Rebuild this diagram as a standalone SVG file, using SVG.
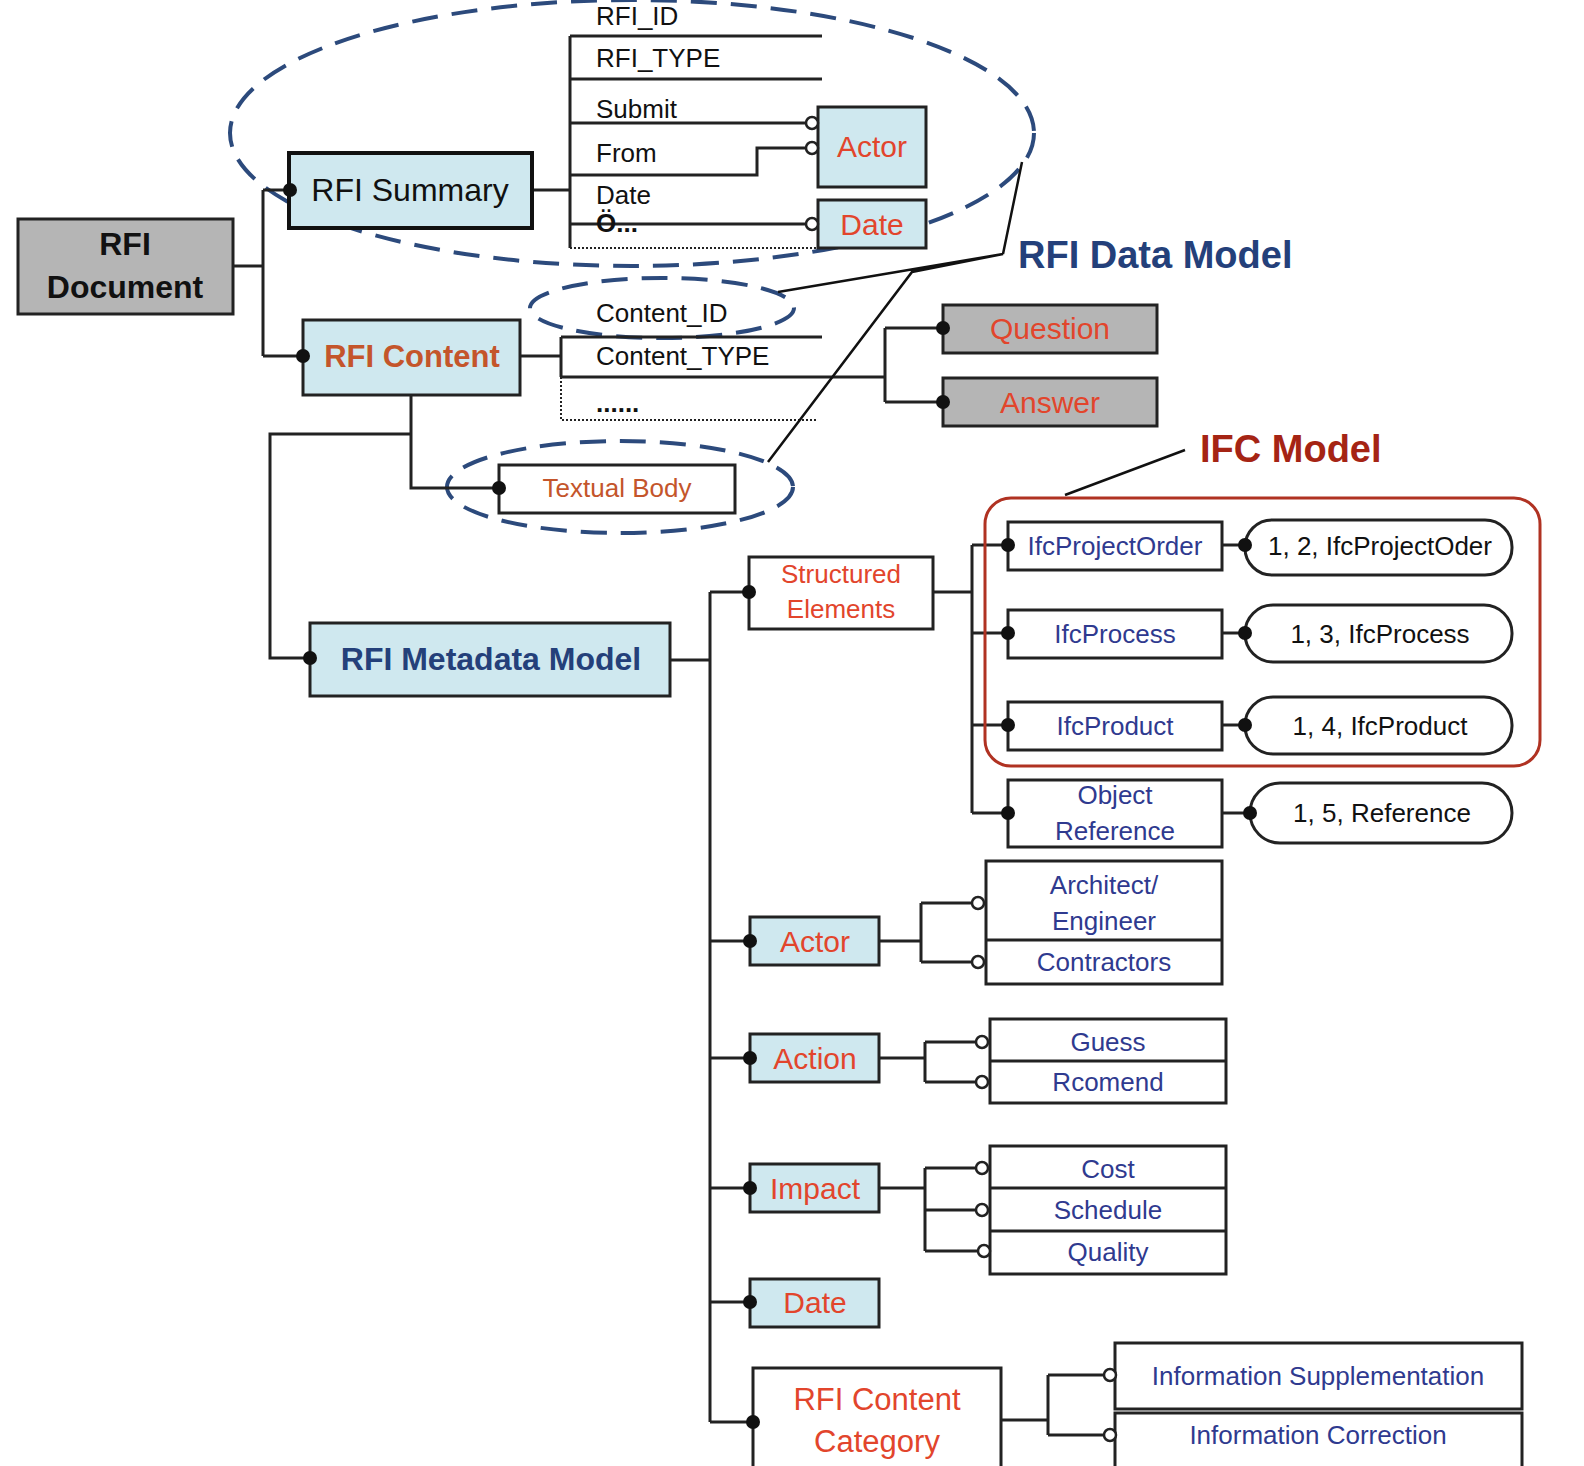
<svg xmlns="http://www.w3.org/2000/svg" width="1584" height="1466" viewBox="0 0 1584 1466">
<style>
.t{font-family:"Liberation Sans",Arial,sans-serif}
.bx{stroke:#222;stroke-width:3}
.bl{fill:#cfe8ef}
.gr{fill:#b5b5b5}
.wh{fill:#fff}
.ln{stroke:#222;stroke-width:3;fill:none}
.dl{stroke:#2c4a7c;stroke-width:4;fill:none;stroke-dasharray:26 14}
.dot{fill:#111}
.oc{fill:#fff;stroke:#222;stroke-width:2.5}
.red{fill:#e2452c}
.brn{fill:#c4552b}
.blu{fill:#2f3a8f}
.k{fill:#111}
</style>
<rect width="1584" height="1466" fill="#fff"/>
<g id="ellipses">
<ellipse class="dl" cx="632" cy="133" rx="402" ry="133"/>
<ellipse class="dl" cx="662" cy="308" rx="132" ry="30"/>
<ellipse class="dl" cx="620" cy="487" rx="173" ry="46"/>
</g>
<g id="connectors">
<path class="ln" d="M233 266H263M263 190V356M263 190H290M263 356H303"/>
<path class="ln" d="M532 190H570M570 36V248M570 36H822M570 79H822M570 123H812M570 175H757V148H812M570 224H812"/>
<path d="M570 248H818" stroke="#222" stroke-width="2" stroke-dasharray="2 2"/>
<path class="ln" d="M520 356H561M561 337V377M561 337H822M561 377H885M885 328V402M885 328H943M885 402H943"/>
<path d="M561 377V420H818" stroke="#222" stroke-width="2" stroke-dasharray="2 2" fill="none"/>
<path class="ln" d="M411 395V488H499M411 434H270V658H310"/>
<path class="ln" d="M670 660H710M710 592V1422M710 592H749M710 941H750M710 1058H750M710 1188H750M710 1302H750M710 1422H753"/>
<path class="ln" d="M933 592H972M972 545V813M972 545H1008M972 633H1008M972 725H1008M972 813H1008"/>
<path class="ln" d="M1222 545H1245M1222 633H1245M1222 725H1245M1222 813H1250"/>
<path class="ln" d="M879 941H921M921 903V962M921 903H976M921 962H976"/>
<path class="ln" d="M879 1058H925M925 1042V1082M925 1042H980M925 1082H980"/>
<path class="ln" d="M879 1188H925M925 1168V1251M925 1168H980M925 1210H980M925 1251H982"/>
<path class="ln" d="M1001 1420H1048M1048 1375V1435M1048 1375H1110M1048 1435H1110"/>
<path d="M1003 254L1022 162M1003 254L778 292M1003 254L912 272L768 462M1065 495L1185 450" stroke="#111" stroke-width="2.5" fill="none"/>
</g>
<g id="rfi-document"><rect class="bx gr" x="18" y="219" width="215" height="95"/><text class="t k" x="125" y="255" font-size="32" font-weight="bold" text-anchor="middle">RFI</text><text class="t k" x="125" y="298" font-size="32" font-weight="bold" text-anchor="middle">Document</text></g>
<g id="rfi-summary"><rect class="bl" x="289" y="153" width="243" height="75" stroke="#111" stroke-width="4"/><text class="t k" x="410" y="201" font-size="32" text-anchor="middle">RFI Summary</text></g>
<g id="summary-fields" class="t k" font-size="26"><text x="596" y="25">RFI_ID</text><text x="596" y="67">RFI_TYPE</text><text x="596" y="118">Submit</text><text x="596" y="162">From</text><text x="596" y="204">Date</text><text x="596" y="232" font-weight="bold">Ö...</text></g>
<g id="actor-top"><rect class="bx bl" x="818" y="107" width="108" height="80"/><text class="t red" x="872" y="157" font-size="30" text-anchor="middle">Actor</text></g>
<g id="date-top"><rect class="bx bl" x="818" y="200" width="108" height="48"/><text class="t red" x="872" y="235" font-size="30" text-anchor="middle">Date</text></g>
<g id="rfi-data-model-label"><text class="t" x="1018" y="268" font-size="38" font-weight="bold" fill="#24407a">RFI Data Model</text></g>
<g id="rfi-content"><rect class="bx bl" x="303" y="320" width="217" height="75"/><text class="t brn" x="412" y="367" font-size="31" font-weight="bold" text-anchor="middle">RFI Content</text></g>
<g id="content-fields" class="t k" font-size="26"><text x="596" y="322">Content_ID</text><text x="596" y="365">Content_TYPE</text><text x="596" y="412" font-weight="bold">......</text></g>
<g id="question"><rect class="bx gr" x="943" y="305" width="214" height="48"/><text class="t red" x="1050" y="339" font-size="30" text-anchor="middle">Question</text></g>
<g id="answer"><rect class="bx gr" x="943" y="378" width="214" height="48"/><text class="t red" x="1050" y="413" font-size="30" text-anchor="middle">Answer</text></g>
<g id="textual-body"><rect class="bx wh" x="499" y="465" width="236" height="48"/><text class="t brn" x="617" y="497" font-size="26" text-anchor="middle">Textual Body</text></g>
<g id="rfi-metadata-model"><rect class="bx bl" x="310" y="623" width="360" height="73"/><text class="t" x="491" y="670" font-size="32" font-weight="bold" text-anchor="middle" fill="#24407a">RFI Metadata Model</text></g>
<g id="ifc-model"><rect x="985" y="498" width="555" height="268" rx="26" fill="none" stroke="#b03222" stroke-width="3"/><text class="t" x="1200" y="462" font-size="38" font-weight="bold" fill="#a52414">IFC Model</text></g>
<g id="structured-elements"><rect class="bx wh" x="749" y="557" width="184" height="72"/><text class="t red" x="841" y="583" font-size="26" text-anchor="middle">Structured</text><text class="t red" x="841" y="618" font-size="26" text-anchor="middle">Elements</text></g>
<g id="ifc-project-order"><rect class="bx wh" x="1008" y="522" width="214" height="48"/><text class="t blu" x="1115" y="555" font-size="26" text-anchor="middle">IfcProjectOrder</text></g>
<g id="ifc-process"><rect class="bx wh" x="1008" y="610" width="214" height="48"/><text class="t blu" x="1115" y="643" font-size="26" text-anchor="middle">IfcProcess</text></g>
<g id="ifc-product"><rect class="bx wh" x="1008" y="702" width="214" height="48"/><text class="t blu" x="1115" y="735" font-size="26" text-anchor="middle">IfcProduct</text></g>
<g id="object-reference"><rect class="bx wh" x="1008" y="780" width="214" height="67"/><text class="t blu" x="1115" y="804" font-size="26" text-anchor="middle">Object</text><text class="t blu" x="1115" y="840" font-size="26" text-anchor="middle">Reference</text></g>
<g id="pill-1"><rect class="bx wh" x="1245" y="520" width="267" height="55" rx="27"/><text class="t k" x="1380" y="555" font-size="26" text-anchor="middle">1, 2, IfcProjectOder</text></g>
<g id="pill-2"><rect class="bx wh" x="1245" y="605" width="267" height="57" rx="28"/><text class="t k" x="1380" y="643" font-size="26" text-anchor="middle">1, 3, IfcProcess</text></g>
<g id="pill-3"><rect class="bx wh" x="1245" y="697" width="267" height="57" rx="28"/><text class="t k" x="1380" y="735" font-size="26" text-anchor="middle">1, 4, IfcProduct</text></g>
<g id="pill-4"><rect class="bx wh" x="1250" y="783" width="262" height="60" rx="30"/><text class="t k" x="1382" y="822" font-size="26" text-anchor="middle">1, 5, Reference</text></g>
<g id="actor"><rect class="bx bl" x="750" y="917" width="129" height="48"/><text class="t red" x="815" y="952" font-size="30" text-anchor="middle">Actor</text></g>
<g id="actor-values"><rect class="bx wh" x="986" y="861" width="236" height="123"/><path class="ln" d="M986 940H1222"/><text class="t blu" x="1104" y="894" font-size="26" text-anchor="middle">Architect/</text><text class="t blu" x="1104" y="930" font-size="26" text-anchor="middle">Engineer</text><text class="t blu" x="1104" y="971" font-size="26" text-anchor="middle">Contractors</text></g>
<g id="action"><rect class="bx bl" x="750" y="1034" width="129" height="48"/><text class="t red" x="815" y="1069" font-size="30" text-anchor="middle">Action</text></g>
<g id="action-values"><rect class="bx wh" x="990" y="1019" width="236" height="84"/><path class="ln" d="M990 1061H1226"/><text class="t blu" x="1108" y="1051" font-size="26" text-anchor="middle">Guess</text><text class="t blu" x="1108" y="1091" font-size="26" text-anchor="middle">Rcomend</text></g>
<g id="impact"><rect class="bx bl" x="750" y="1164" width="129" height="48"/><text class="t red" x="815" y="1199" font-size="30" text-anchor="middle">Impact</text></g>
<g id="impact-values"><rect class="bx wh" x="990" y="1146" width="236" height="128"/><path class="ln" d="M990 1188H1226M990 1231H1226"/><text class="t blu" x="1108" y="1178" font-size="26" text-anchor="middle">Cost</text><text class="t blu" x="1108" y="1219" font-size="26" text-anchor="middle">Schedule</text><text class="t blu" x="1108" y="1261" font-size="26" text-anchor="middle">Quality</text></g>
<g id="date"><rect class="bx bl" x="750" y="1279" width="129" height="48"/><text class="t red" x="815" y="1313" font-size="30" text-anchor="middle">Date</text></g>
<g id="rfi-content-category"><rect class="bx wh" x="753" y="1368" width="248" height="110"/><text class="t red" x="877" y="1410" font-size="31" text-anchor="middle">RFI Content</text><text class="t red" x="877" y="1452" font-size="31" text-anchor="middle">Category</text></g>
<g id="category-values"><rect class="bx wh" x="1115" y="1343" width="407" height="66"/><rect class="bx wh" x="1115" y="1413" width="407" height="60"/><text class="t blu" x="1318" y="1385" font-size="26" text-anchor="middle">Information Supplementation</text><text class="t blu" x="1318" y="1444" font-size="26" text-anchor="middle">Information Correction</text></g>
<g id="connector-ends">
<g class="dot">
<circle cx="290" cy="190" r="7"/><circle cx="303" cy="356" r="7"/><circle cx="943" cy="328" r="7"/><circle cx="943" cy="402" r="7"/>
<circle cx="499" cy="488" r="7"/><circle cx="310" cy="658" r="7"/><circle cx="749" cy="592" r="7"/>
<circle cx="1008" cy="545" r="7"/><circle cx="1008" cy="633" r="7"/><circle cx="1008" cy="725" r="7"/><circle cx="1008" cy="813" r="7"/>
<circle cx="1245" cy="545" r="7"/><circle cx="1245" cy="633" r="7"/><circle cx="1245" cy="725" r="7"/><circle cx="1250" cy="813" r="7"/>
<circle cx="750" cy="941" r="7"/><circle cx="750" cy="1058" r="7"/><circle cx="750" cy="1188" r="7"/><circle cx="750" cy="1302" r="7"/><circle cx="753" cy="1422" r="7"/>
</g>
<g class="oc">
<circle cx="812" cy="123" r="6"/><circle cx="812" cy="148" r="6"/><circle cx="812" cy="224" r="6"/>
<circle cx="978" cy="903" r="6"/><circle cx="978" cy="962" r="6"/>
<circle cx="982" cy="1042" r="6"/><circle cx="982" cy="1082" r="6"/>
<circle cx="982" cy="1168" r="6"/><circle cx="982" cy="1210" r="6"/><circle cx="984" cy="1251" r="6"/>
<circle cx="1110" cy="1375" r="6"/><circle cx="1110" cy="1435" r="6"/>
</g>
</g>
</svg>
